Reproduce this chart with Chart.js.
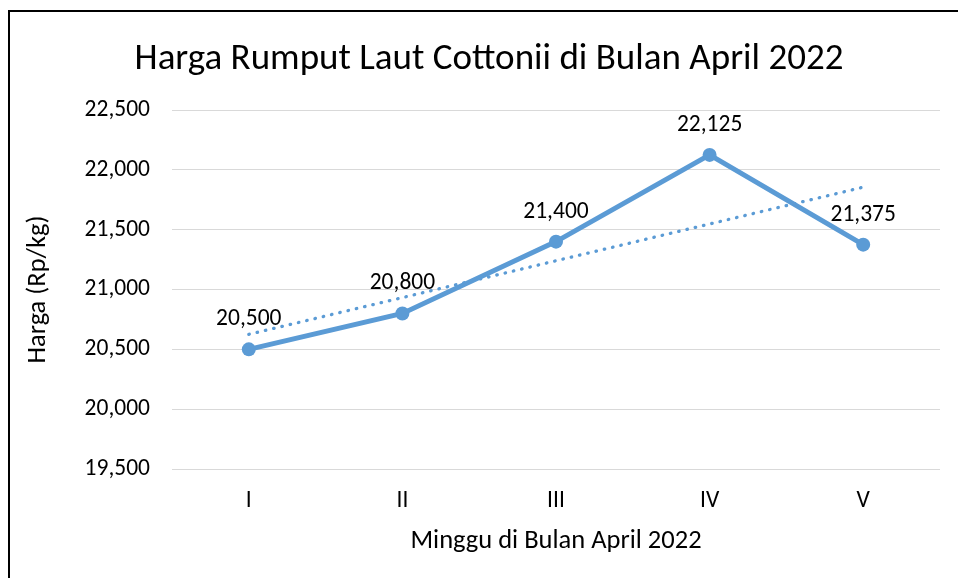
<!DOCTYPE html>
<html>
<head>
<meta charset="utf-8">
<script src="https://cdn.jsdelivr.net/npm/chart.js@4.4.1/dist/chart.umd.min.js"></script>
<style>
  html, body { margin: 0; padding: 0; background: #ffffff; }
  #wrap { width: 958px; height: 578px; position: relative; }
</style>
</head>
<body>
<div id="wrap"><canvas id="c" width="958" height="578"></canvas></div>
<script>
const categories = ['I', 'II', 'III', 'IV', 'V'];
const hargaValues = [20500, 20800, 21400, 22125, 21375];
const trendValues = [20625, 20932.5, 21240, 21547.5, 21855];
const yTicks = [19500, 20000, 20500, 21000, 21500, 22000, 22500];
const chartTitle = 'Harga Rumput Laut Cottonii di Bulan April 2022';
const xTitle = 'Minggu di Bulan April 2022';
const yTitle = 'Harga (Rp/kg)';

const FONT = "Carlito, Calibri, Lato, 'Open Sans', sans-serif";
const BLUE = '#5B9BD5';
const fmt = v => Number(v).toLocaleString('en-US');

const framePlugin = {
  id: 'frame',
  afterDraw(chart) {
    const ctx = chart.ctx;
    ctx.save();
    ctx.strokeStyle = '#000000';
    ctx.lineWidth = 2;
    ctx.strokeRect(9, 11, 1000, 1000);
    ctx.fillStyle = '#000000';
    ctx.font = '37px ' + FONT;
    ctx.textAlign = 'center';
    ctx.textBaseline = 'alphabetic';
    ctx.fillText(chartTitle, 489, 69);
    ctx.restore();
  }
};

const labelPlugin = {
  id: 'dataLabels',
  afterDatasetsDraw(chart) {
    const ctx = chart.ctx;
    const meta = chart.getDatasetMeta(0);
    ctx.save();
    ctx.font = '23.5px ' + FONT;
    ctx.fillStyle = '#000000';
    ctx.textAlign = 'center';
    ctx.textBaseline = 'alphabetic';
    meta.data.forEach((pt, i) => {
      ctx.fillText(fmt(hargaValues[i]), pt.x, pt.y - 24);
    });
    ctx.restore();
  }
};

new Chart(document.getElementById('c'), {
  type: 'line',
  data: {
    labels: categories,
    datasets: [
      {
        label: 'Harga',
        data: hargaValues,
        borderColor: BLUE,
        backgroundColor: BLUE,
        borderWidth: 5,
        pointRadius: 7,
        pointHoverRadius: 7,
        pointBackgroundColor: BLUE,
        pointBorderColor: BLUE,
        pointBorderWidth: 0,
        tension: 0,
        order: 1
      },
      {
        label: 'Linear (Harga)',
        data: trendValues,
        borderColor: BLUE,
        borderWidth: 3.3,
        borderDash: [0.5, 8],
        borderCapStyle: 'round',
        pointRadius: 0,
        pointHoverRadius: 0,
        tension: 0,
        fill: false,
        order: 2
      }
    ]
  },
  options: {
    responsive: false,
    animation: false,
    events: [],
    layout: { padding: { left: 0, right: 18, top: 110, bottom: 0 } },
    plugins: {
      legend: { display: false },
      tooltip: { enabled: false },
      title: { display: false }
    },
    scales: {
      x: {
        offset: true,
        grid: { display: false, drawTicks: false },
        border: { display: false },
        ticks: { color: '#000000', font: { family: FONT, size: 23.5 }, padding: 18, maxRotation: 0 },
        title: {
          display: true, text: xTitle, color: '#000000',
          font: { family: FONT, size: 26.5, lineHeight: 1.2 },
          padding: { top: 0, bottom: 21 }
        },
        afterFit(scale) { scale.height = 109; }
      },
      y: {
        min: 19500,
        max: 22500,
        afterBuildTicks(scale) { scale.ticks = yTicks.map(v => ({ value: v })); },
        grid: { color: '#d9d9d9', lineWidth: 1, drawTicks: false },
        border: { display: false },
        ticks: {
          color: '#000000', font: { family: FONT, size: 23.5 }, padding: 22,
          callback: v => fmt(v)
        },
        title: {
          display: true, text: yTitle, color: '#000000',
          font: { family: FONT, size: 26.5, lineHeight: 1.2 },
          padding: { top: 22, bottom: 0 }
        },
        afterFit(scale) { scale.width = 172; }
      }
    }
  },
  plugins: [framePlugin, labelPlugin]
});
</script>
</body>
</html>
